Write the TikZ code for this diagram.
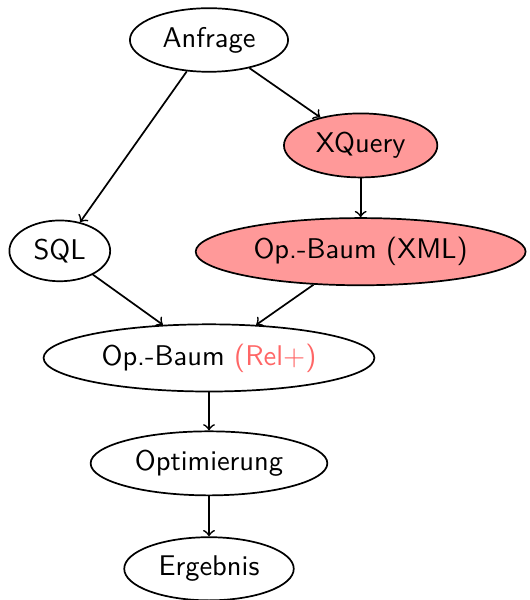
\documentclass[tikz,border=0pt]{standalone}
\usepackage{tikz}
\usetikzlibrary{shapes,arrows,positioning,calc}

\begin{document}
\begin{tikzpicture}[semithick,stage/.style={draw,ellipse,font=\sffamily},
    xml/.style={stage,fill=red!40}]
      \useasboundingbox (-2.577,0.493) rectangle (3.958,-6.905);

      \coordinate (A) at (0,0);
      \coordinate (X) at (1.87,-1.3);
      \coordinate (S) at (-1.84,-2.6);
      \coordinate (T) at (1.87,-2.61);
      \coordinate (R) at (0,-3.92);
      \coordinate (O) at (0,-5.22);
      \coordinate (E) at (0,-6.52);

      \node[stage] (anfrage) at (A) {Anfrage};
      \node[xml] (xquery) at (X) {XQuery};
      \node[stage] (sql) at (S) {SQL};
      \node[xml] (xmltree) at (T) {Op.-Baum (XML)};
      \node[stage] (reltree) at (R) {Op.-Baum \textcolor{red!60}{(Rel+)}};
      \node[stage] (opt) at (O) {Optimierung};
      \node[stage] (result) at (E) {Ergebnis};

      \draw[->] (anfrage) -- (sql);
      \draw[->] (anfrage) -- (xquery);
      \draw[->] (xquery) -- (xmltree);
      \draw[->] (sql) -- (reltree);
      \draw[->] (xmltree) -- (reltree);
      \draw[->] (reltree) -- (opt);
      \draw[->] (opt) -- (result);

    \end{tikzpicture}
\end{document}
